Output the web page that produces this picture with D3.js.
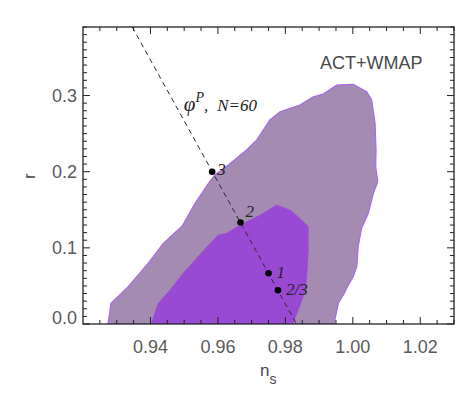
<!DOCTYPE html>
<html>
<head>
<meta charset="utf-8">
<script src="https://cdn.jsdelivr.net/npm/d3@7"></script>
<style>
  body { margin: 0; background: #fff; }
  .tick-label { font-family: "Liberation Sans", Arial, sans-serif; font-size: 18px; fill: #5a5a5a; }
  .axis-title { font-family: "Liberation Sans", Arial, sans-serif; fill: #4a4a4a; }
  .serif-it { font-family: "Liberation Serif", "DejaVu Serif", serif; font-style: italic; fill: #222; }
</style>
</head>
<body>
<div id="chart"></div>
<script>

// ACT+WMAP 95% contour (outer) in the (n_s, r) plane
var outerNs = [0.9274, 0.9283, 0.9334, 0.9389, 0.9438, 0.9494, 0.9532, 0.9572, 0.9591, 0.9631,
               0.9685, 0.9715, 0.9754, 0.9784, 0.9843, 0.9883, 0.9912, 0.9952, 1.0001, 1.0041,
               1.0056, 1.0066, 1.0069, 1.0068, 1.0074, 1.0061, 1.0046, 1.0026, 1.0016, 1.0012,
               1.0001, 0.9987, 0.9972, 0.9957, 0.9947, 0.9946];
var outerR  = [0.0000, 0.0272, 0.0490, 0.0775, 0.1060, 0.1287, 0.1585, 0.1848, 0.1957, 0.2088,
               0.2285, 0.2416, 0.2679, 0.2788, 0.2876, 0.2985, 0.3020, 0.3139, 0.3148, 0.3051,
               0.2942, 0.2640, 0.2285, 0.2066, 0.1869, 0.1716, 0.1454, 0.1257, 0.1015, 0.0752,
               0.0621, 0.0512, 0.0381, 0.0272, 0.0053, 0.0000];

// 68% contour (inner)
var innerNs = [0.9402, 0.9423, 0.9458, 0.9497, 0.9532, 0.9572, 0.9601, 0.9626, 0.9666, 0.9725,
               0.9774, 0.9814, 0.9843, 0.9868, 0.9868, 0.9863, 0.9853, 0.9838, 0.9829, 0.9823];
var innerR  = [0.0000, 0.0272, 0.0446, 0.0666, 0.0840, 0.1037, 0.1169, 0.1191, 0.1300, 0.1431,
               0.1563, 0.1497, 0.1388, 0.1278, 0.0972, 0.0578, 0.0359, 0.0184, 0.0075, 0.0000];

// phi^p models, N=60
var lineNs = [0.9346, 0.9833];
var lineR  = [0.39, 0.0];
var pointLabels = ["3", "2", "1", "2/3"];
var pointNs = [0.9583, 0.9667, 0.9750, 0.9778];
var pointR  = [0.2000, 0.1333, 0.0667, 0.0444];

var xTicks = [0.94, 0.96, 0.98, 1.00, 1.02];
var xTickLabels = ["0.94", "0.96", "0.98", "1.00", "1.02"];
var yTicks = [0.0, 0.1, 0.2, 0.3];
var yTickLabels = ["0.0", "0.1", "0.2", "0.3"];

var legendText = "ACT+WMAP";


var W = 471, H = 393;
var margin = { top: 27, right: 17, bottom: 69, left: 83 };
var width = W - margin.left - margin.right,
    height = H - margin.top - margin.bottom;

var svg = d3.select("#chart").append("svg")
    .attr("width", W)
    .attr("height", H);

var g = svg.append("g")
    .attr("transform", "translate(" + margin.left + "," + margin.top + ")");

var x = d3.scaleLinear().domain([0.92, 1.03]).range([0, width]);
var y = d3.scaleLinear().domain([0, 0.39]).range([height, 0]);

g.append("clipPath").attr("id", "clip")
  .append("rect").attr("width", width).attr("height", height);

var plot = g.append("g").attr("clip-path", "url(#clip)");

function toPts(a, b) {
  return a.map(function(d, i) { return [d, b[i]]; });
}

var area = d3.line()
    .x(function(d) { return x(d[0]); })
    .y(function(d) { return y(d[1]); });

plot.append("path")
    .datum(toPts(outerNs, outerR))
    .attr("d", function(d) { return area(d) + "Z"; })
    .attr("fill", "#a58ab1")
    .attr("stroke", "#a766f0")
    .attr("stroke-width", 1.1);

plot.append("path")
    .datum(toPts(innerNs, innerR))
    .attr("d", function(d) { return area(d) + "Z"; })
    .attr("fill", "#9a49d4")
    .attr("stroke", "#9a49d4")
    .attr("stroke-width", 0.5);

// dashed phi^p line
plot.append("path")
    .datum(toPts(lineNs, lineR))
    .attr("d", area)
    .attr("fill", "none")
    .attr("stroke", "#2a2a2a")
    .attr("stroke-width", 1)
    .attr("stroke-dasharray", "5,4");

plot.selectAll(".pt")
    .data(pointNs)
  .enter().append("circle")
    .attr("class", "pt")
    .attr("cx", function(d) { return x(d); })
    .attr("cy", function(d, i) { return y(pointR[i]); })
    .attr("r", 3.3)
    .attr("fill", "#000");

// label offsets (px) for each model point
var labOff = [[5, 3], [5, -5], [8, 5], [8, 5]];
g.selectAll(".pt-label")
    .data(pointLabels)
  .enter().append("text")
    .attr("class", "pt-label serif-it")
    .attr("x", function(d, i) { return x(pointNs[i]) + labOff[i][0]; })
    .attr("y", function(d, i) { return y(pointR[i]) + labOff[i][1]; })
    .style("font-size", "17px")
    .text(function(d) { return d; });

// phi^P, N=60
var phiText = g.append("text")
    .attr("class", "serif-it")
    .attr("x", x(0.9499))
    .attr("y", y(0.2797));
phiText.append("tspan").style("font-size", "21px").text("\u03C6");
phiText.append("tspan").style("font-size", "14px").attr("dy", -9).text("P");
phiText.append("tspan").style("font-size", "17px").attr("dy", 9).text(",");
phiText.append("tspan").style("font-size", "17px").attr("dx", 9).text("N=60");

g.append("text")
    .attr("class", "axis-title")
    .attr("x", x(1.0207))
    .attr("y", y(0.335))
    .attr("text-anchor", "end")
    .style("font-size", "18px")
    .text(legendText);

// axes - ticks pointing inward, mirrored on top/right
var xMinor = d3.range(0.925, 1.0301, 0.005).filter(function(v) {
  return xTicks.every(function(t) { return Math.abs(t - v) > 1e-6; });
});
var yMinor = d3.range(0.01, 0.3901, 0.01).filter(function(v) {
  return yTicks.every(function(t) { return Math.abs(t - v) > 1e-6; });
});

function drawTicks(sel, vals, len, isX, side) {
  sel.selectAll(null)
      .data(vals)
    .enter().append("line")
      .attr("x1", function(d) { return isX ? x(d) : (side ? width : 0); })
      .attr("x2", function(d) { return isX ? x(d) : (side ? width - len : len); })
      .attr("y1", function(d) { return isX ? (side ? 0 : height) : y(d); })
      .attr("y2", function(d) { return isX ? (side ? len : height - len) : y(d); })
      .attr("stroke", "#222")
      .attr("stroke-width", 1);
}

var axes = g.append("g");
[0, 1].forEach(function(side) {
  drawTicks(axes, xTicks, 7, true, side);
  drawTicks(axes, xMinor, 4, true, side);
  drawTicks(axes, yTicks, 7, false, side);
  drawTicks(axes, yMinor, 4, false, side);
});

axes.append("rect")
    .attr("width", width)
    .attr("height", height)
    .attr("fill", "none")
    .attr("stroke", "#222")
    .attr("stroke-width", 1.3);

g.selectAll(".xlab")
    .data(xTicks)
  .enter().append("text")
    .attr("class", "tick-label")
    .attr("x", function(d) { return x(d); })
    .attr("y", height + 29)
    .attr("text-anchor", "middle")
    .text(function(d, i) { return xTickLabels[i]; });

g.selectAll(".ylab")
    .data(yTicks)
  .enter().append("text")
    .attr("class", "tick-label")
    .attr("x", -6)
    .attr("y", function(d) { return y(d) + 6.5 - (d === 0 ? 7 : 0); })
    .attr("text-anchor", "end")
    .text(function(d, i) { return yTickLabels[i]; });

// axis titles
var xt = svg.append("text")
    .attr("class", "axis-title")
    .attr("x", 260)
    .attr("y", 376)
    .style("font-size", "17px");
xt.append("tspan").text("n");
xt.append("tspan").attr("dy", 8).style("font-size", "14px").text("s");

svg.append("text")
    .attr("class", "axis-title")
    .attr("transform", "translate(35,176) rotate(-90)")
    .attr("text-anchor", "middle")
    .style("font-size", "16px")
    .text("r");

</script>
</body>
</html>
